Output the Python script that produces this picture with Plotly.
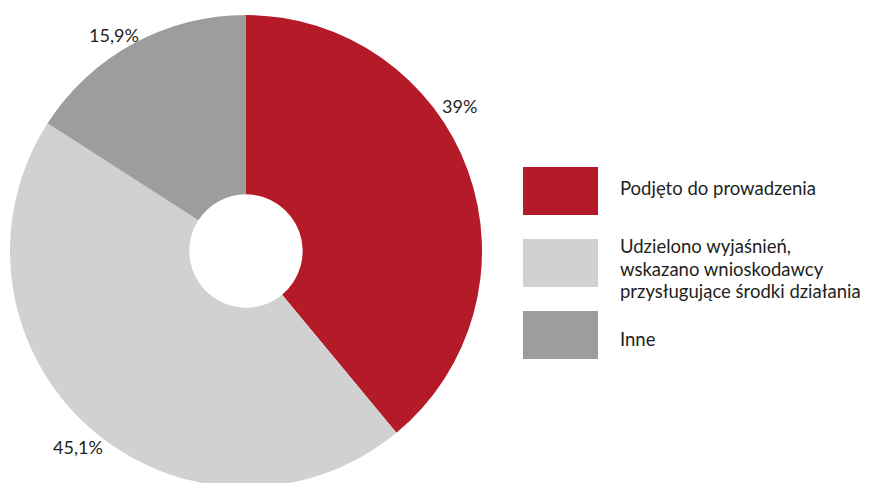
import plotly.graph_objects as go

categories = ["Podjęto do prowadzenia",
              "Udzielono wyjaśnień,<br>wskazano wnioskodawcy<br>przysługujące środki działania",
              "Inne"]
values = [39.0, 45.1, 15.9]
value_labels = ["39%", "45,1%", "15,9%"]
colors = ["#B51A29", "#D0D1D0", "#9D9D9D"]

OFF = 8  # page body margin
W, H = 869 - OFF, 483
FONT = "Lato, 'Open Sans', sans-serif"
TXT = "#231F20"


def px_x(x):
    return (x - OFF) / W


def px_y(y):
    return 1 - (y - OFF) / H


# pie: centre (246, 251), radius 236 in page pixels
cx, cy, r = 246, 251, 236
fig = go.Figure(go.Pie(
    labels=[c.replace("<br>", " ") for c in categories],
    values=values,
    marker=dict(colors=colors, line=dict(width=0)),
    hole=0.24,
    sort=False,
    direction="clockwise",
    rotation=0,
    textinfo="none",
    hoverinfo="label+percent",
    showlegend=False,
    domain=dict(x=[px_x(cx - r), px_x(cx + r)], y=[px_y(cy + r), px_y(cy - r)]),
))

# percentage labels (text positions)
label_pos = [(459, 106), (78, 447), (114, 35)]
for t, (x, y) in zip(value_labels, label_pos):
    fig.add_annotation(x=px_x(x), y=px_y(y), xref="paper", yref="paper",
                       text=t, showarrow=False, xanchor="center", yanchor="middle",
                       font=dict(family=FONT, size=18, color=TXT))

# custom legend with large swatches
sw_x0, sw_x1 = 523, 598
sw_tops = [167, 239, 311]
sw_h = 48
line_centres = [[188.5], [245.5, 268.5, 290.5], [338.5]]
for name, col, top, ys in zip(categories, colors, sw_tops, line_centres):
    fig.add_shape(type="rect", xref="paper", yref="paper",
                  x0=px_x(sw_x0), x1=px_x(sw_x1),
                  y0=px_y(top + sw_h), y1=px_y(top),
                  fillcolor=col, line=dict(width=0))
    for line, y in zip(name.split("<br>"), ys):
        fig.add_annotation(x=px_x(618), y=px_y(y), xref="paper", yref="paper",
                           text=line, showarrow=False, xanchor="left", yanchor="middle",
                           align="left",
                           font=dict(family=FONT, size=18.5, color=TXT))

fig.update_layout(
    width=W, height=H,
    margin=dict(l=0, r=0, t=0, b=0),
    paper_bgcolor="white",
    plot_bgcolor="white",
    font=dict(family=FONT, color=TXT),
)

fig.write_html("out.html")
